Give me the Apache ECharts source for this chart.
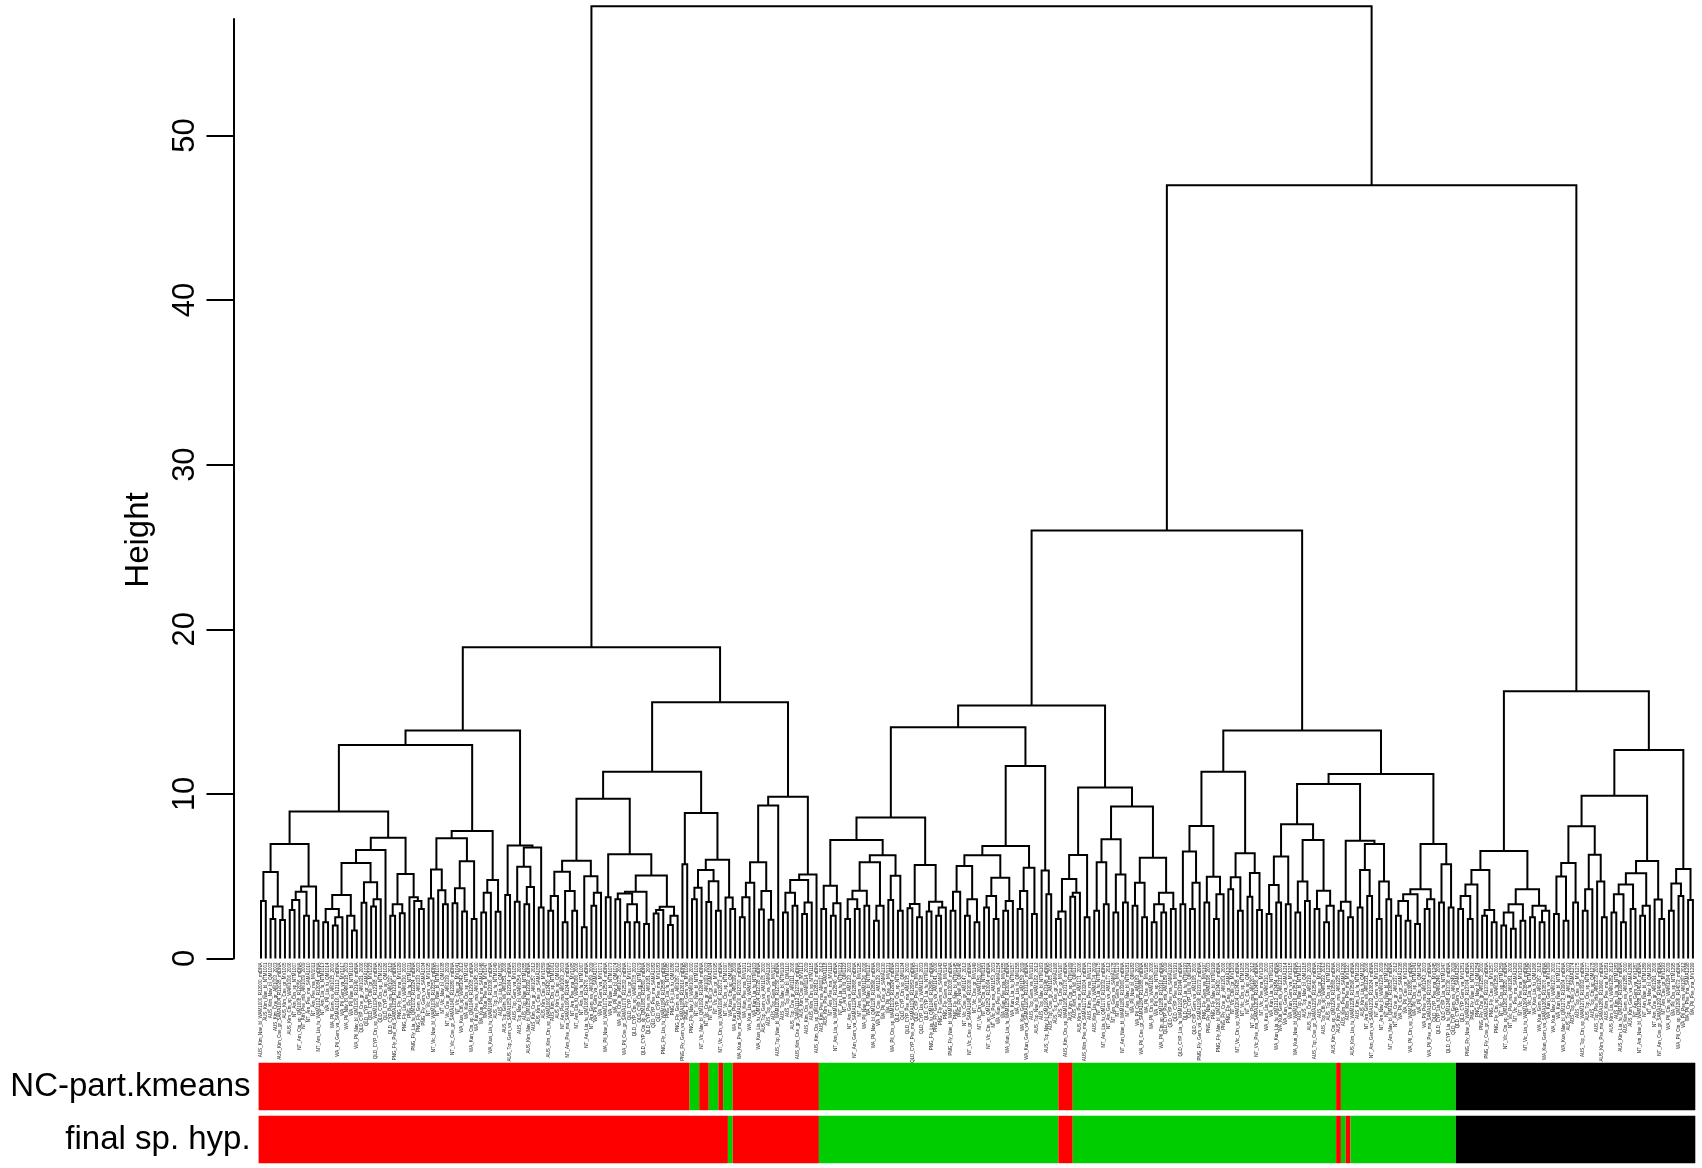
<!DOCTYPE html>
<html>
<head>
<meta charset="utf-8">
<title>Dendrogram with colour rows</title>
<script src="https://cdn.jsdelivr.net/npm/echarts@6/dist/echarts.min.js"></script>
<style>
html,body{margin:0;padding:0;background:#ffffff;}
#chart{width:1702px;height:1168px;}
</style>
</head>
<body>
<div id="chart"></div>
<script>
// ---------------- DATA ----------------
// Merge height between leaf i and leaf i+1 (height of their lowest common node), leaves in plotted order.
// Left main cluster (leaves 0..116)
const mergeLeftA = [3.5,5.26,2.4,3.16,2.34,6.96,2.95,3.56,4.06,2.6,4.38,2.3,8.93,2.2,3.0,2.0,2.5,3.85,2.6,1.7,
  5.8,3.39,4.63,3.16,3.6,6.59,7.34,2.6,3.3,2.75,5.13,3.72,3.5,3.0,12.97,3.65,5.4,4.15,3.3,7.3,
  3.35,4.27,2.85,5.9,2.4,7.75,2.8,4.0,4.77,2.84,13.85,3.85,6.86,3.45,5.58,3.3,4.35,6.74,3.1];
const joinLeft = [18.9];
const mergeLeftB = [2.9,3.8,5.27,2.2,4.1,2.9,5.94,1.9,5.0,3.2,4.0,9.7,3.72,6.33,3.6,3.95,2.2,3.3,2.2,4.06,
  2.1,5.04,2.74,2.95,3.15,2.03,2.6,11.35,5.72,8.84,3.6,4.3,5.38,3.43,4.7,2.9,6.0,3.7,3.0,15.57,
  2.5,3.72,4.6,5.84,2.98,4.1,2.35,9.29,9.83,2.8,4.0,3.2,4.77,2.7,3.4,5.11];
const joinRoot = [57.85];
// Right main cluster, first part (leaves 117..249)
const mergeMidA = [3.0,4.42,2.6,3.35,7.2,2.4,3.6,3.0,4.12,3.2,5.84,2.3,3.2,6.27,3.55,5.03,2.9,8.56,3.06,3.31,
  2.5,5.68,2.85,3.45,2.6,3.1,14.05,2.9,4.06,5.62,2.6,3.6,2.2,6.27,3.1,3.8,2.4,4.9,2.9,3.5,
  6.84,3.0,4.1,5.52,2.7,11.7,5.34,3.9,15.37,2.4,2.85,4.83,3.75,4.0,6.29,2.5,10.38,2.9,5.84,3.3,
  7.24,2.8,5.1,3.4,9.23,3.2,4.6,2.5,6.12,2.2,3.3,2.8,4.0,3.0];
const joinMid = [26.0];
const mergeMidB = [3.3,6.5,3.0,4.6,8.05,3.4,4.97,2.4,3.9,11.35,4.2,4.93,2.9,6.4,3.75,5.2,2.95,13.85,2.7,4.46,
  3.4,6.19,3.3,8.15,2.8,4.67,3.5,7.2,3.0,4.12,2.2,3.2,10.6,2.9,3.45,2.5,7.16,3.1,5.38,3.8,
  6.96,2.4,4.67,3.6,11.21,2.6,3.5,2.3,3.9,2.1,4.2,3.0,3.6,6.96,3.4,5.72,3.1];
const joinRight = [46.97];
// Right main cluster, second part (leaves 250..299)
const mergeEnd = [3.0,3.8,2.4,4.5,5.38,2.6,2.94,2.2,6.53,2.0,2.8,1.8,3.3,2.3,4.2,2.5,3.2,2.2,2.9,16.23,
  2.7,4.98,2.3,5.8,3.4,8.04,2.9,4.2,6.3,4.67,2.5,9.88,2.8,3.9,2.2,4.5,3.0,5.18,2.6,3.2,
  5.93,3.59,2.4,12.67,2.9,4.56,3.8,5.44,3.56];

// Colour rows, run-length coded in leaf order: [colour, number of leaves]
const rowNames = ['NC-part.kmeans', 'final sp. hyp.'];
const kmeansRuns = [['red',90],['green',2],['red',2],['green',2],['red',1],['green',2],['red',18],
  ['green',50],['red',3],['green',55],['red',1],['green',24],['black',50]];
const finalRuns = [['red',98],['green',1],['red',18],
  ['green',50],['red',3],['green',55],['red',1],['green',1],['red',1],['green',22],['black',50]];
const colourMap = {red:'#FF0000', green:'#00CD00', black:'#000000'};

// Axis
const yTicks = [0,10,20,30,40,50];
const yAxisTop = 57.07;

// Leaf label pieces (tiny sample labels under the leaves)
const labelSites = ['AUS_Kim','NT_Arn','WA_Pil','QLD_CYP','PNG_Fly','NT_Vic','WA_Kun','AUS_Top'];
const labelTaxa = ['Nav_bl','Cne_gr','Ctn_sp','Pse_ma','Lia_fu','Gem_va'];
const labelColl = ['WAM','NTM','QM','AM','SAMA','MV'];

// ---------------- BUILD ----------------
const merge = [].concat(mergeLeftA, joinLeft, mergeLeftB, joinRoot, mergeMidA, joinMid, mergeMidB, joinRight, mergeEnd);
const nLeaves = merge.length + 1;

const nodes = [];
function build(lo, hi) {
  if (lo === hi) return {x: lo, h: 0};
  let m = lo;
  for (let i = lo; i < hi; i++) if (merge[i] > merge[m]) m = i;
  const L = build(lo, m), R = build(m + 1, hi), h = merge[m];
  nodes.push([L.x, L.h, R.x, R.h, h]);
  return {x: (L.x + R.x) / 2, h: h};
}
build(0, nLeaves - 1);

const leafLabels = [];
for (let i = 0; i < nLeaves; i++) {
  const s = labelSites[Math.floor(i / 7) % labelSites.length];
  const t = labelTaxa[Math.floor(i / 3) % labelTaxa.length];
  const c = labelColl[i % labelColl.length];
  const extra = (i % 4 === 0) ? '_R' + (12000 + i * 7) + '_mtDNA' : ((i % 3 === 0) ? '_' + (2000 + (i % 15)) : '');
  leafLabels.push(s + '_' + t + '_' + c + (1000 + i) + extra);
}
const labelData = leafLabels.map((_, i) => [i, 0]);

function runsToData(runs, row) {
  const out = [];
  let k = 0;
  runs.forEach(([col, len]) => { out.push([k, k + len - 1, row, col]); k += len; });
  return out;
}
const barData = runsToData(kmeansRuns, 0).concat(runsToData(finalRuns, 1));

// ---------------- CHART ----------------
const FONT = 'Liberation Sans, Arial, Helvetica, sans-serif';
const chart = echarts.init(document.getElementById('chart'), null, {renderer: 'canvas'});
const leafStep = 4.789;
const x0 = 233.5, leaf0 = 261;
const xMin = -(leaf0 - x0) / leafStep;
const xMax = xMin + (1700 - x0) / leafStep;

chart.setOption({
  animation: false,
  backgroundColor: '#ffffff',
  grid: [
    {left: x0, right: 2, top: 19, bottom: 209.5},
    {left: 258.6, width: leafStep * nLeaves, top: 1060, height: 106}
  ],
  xAxis: [
    {type: 'value', gridIndex: 0, min: xMin, max: xMax, show: false},
    {type: 'value', gridIndex: 1, min: -0.5, max: nLeaves - 0.5, show: false}
  ],
  yAxis: [
    {
      type: 'value', gridIndex: 0, min: 0, max: yAxisTop, interval: 10,
      axisLine: {show: true, onZero: false, lineStyle: {color: '#000', width: 2}},
      axisTick: {show: true, length: 27, customValues: yTicks, lineStyle: {color: '#000', width: 2}},
      axisLabel: {customValues: yTicks, rotate: 90, margin: 33, fontSize: 31, color: '#000', fontFamily: FONT},
      splitLine: {show: false}
    },
    {
      type: 'category', gridIndex: 1, data: rowNames, inverse: true,
      axisLine: {show: false}, axisTick: {show: false},
      axisLabel: {margin: 8, fontSize: 33, color: '#000', fontFamily: FONT},
      splitLine: {show: false}
    }
  ],
  graphic: [{
    type: 'text', x: 139, y: 540, rotation: Math.PI / 2,
    style: {text: 'Height', fontSize: 33, fontFamily: FONT, fill: '#000', align: 'center', verticalAlign: 'middle'}
  }],
  series: [
    {
      type: 'custom', xAxisIndex: 0, yAxisIndex: 0, silent: true,
      data: nodes,
      encode: {x: [0, 2], y: [1, 3, 4]},
      renderItem: function (params, api) {
        const a = api.coord([api.value(0), api.value(1)]);
        const b = api.coord([api.value(0), api.value(4)]);
        const c = api.coord([api.value(2), api.value(4)]);
        const d = api.coord([api.value(2), api.value(3)]);
        return {type: 'polyline', shape: {points: [a, b, c, d]},
          style: {stroke: '#000', lineWidth: 2, fill: null, lineJoin: 'miter'}};
      }
    },
    {
      type: 'custom', xAxisIndex: 0, yAxisIndex: 0, silent: true,
      data: labelData,
      encode: {x: 0, y: 1},
      renderItem: function (params, api) {
        const p = api.coord([api.value(0), 0]);
        return {type: 'text', x: p[0], y: p[1] + 4, rotation: Math.PI / 2,
          style: {text: leafLabels[params.dataIndex], fontSize: 4.5, fontFamily: FONT, fill: '#222',
            align: 'right', verticalAlign: 'middle'}};
      }
    },
    {
      type: 'custom', xAxisIndex: 1, yAxisIndex: 1, silent: true,
      data: barData,
      encode: {x: [0, 1], y: 2},
      renderItem: function (params, api) {
        const p0 = api.coord([api.value(0) - 0.5, api.value(2)]);
        const p1 = api.coord([api.value(1) + 0.5, api.value(2)]);
        const band = api.size([0, 1])[1];
        const h = band * 0.895;
        return {type: 'rect', shape: {x: p0[0], y: p0[1] - h / 2, width: p1[0] - p0[0], height: h},
          style: {fill: colourMap[barData[params.dataIndex][3]]}};
      }
    }
  ]
});
</script>
</body>
</html>
